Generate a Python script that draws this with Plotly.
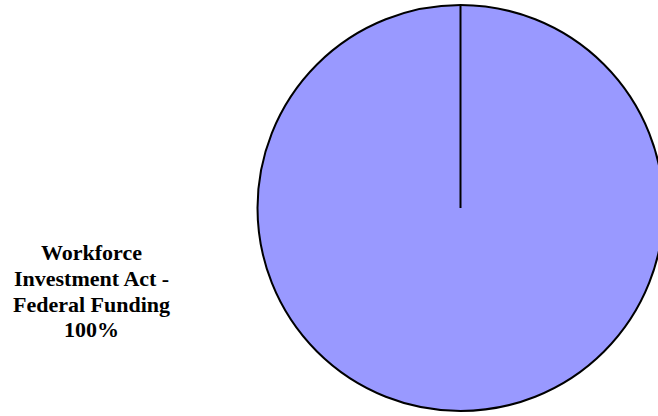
import plotly.graph_objects as go

labels = ["Workforce Investment Act - Federal Funding"]
values = [100]
label_lines = ["Workforce", "Investment Act -", "Federal Funding", "100%"]

# figure slightly wider than the window so the pie can run past the right edge, as in the reference
W, H = 666, 416
cx_px, cy_px, r_px = 460.5, 208.0, 203.0
dom_x = [(cx_px - r_px) / W, (cx_px + r_px) / W]
dom_y = [(H - (cy_px + r_px)) / H, (H - (cy_px - r_px)) / H]

fig = go.Figure(go.Pie(
    labels=labels, values=values, sort=False, direction="clockwise",
    rotation=0, textinfo="none", hoverinfo="label+percent",
    marker=dict(colors=["#9999FF"], line=dict(color="black", width=2)),
    domain=dict(x=dom_x, y=dom_y), showlegend=False,
))

cx = (dom_x[0] + dom_x[1]) / 2
cy = (dom_y[0] + dom_y[1]) / 2
fig.add_shape(type="line", xref="paper", yref="paper",
              x0=cx, x1=cx, y0=cy, y1=dom_y[1],
              line=dict(color="black", width=2))

y_start = 253
for i, t in enumerate(label_lines):
    fig.add_annotation(text="<b>%s</b>" % t, xref="paper", yref="paper",
                       x=91 / W, y=(H - (y_start + i * 25.6)) / H,
                       xanchor="center", yanchor="middle", showarrow=False,
                       font=dict(family="Liberation Serif", size=22, color="black"))

fig.update_layout(width=W, height=H, margin=dict(l=0, r=0, t=0, b=0),
                  paper_bgcolor="white", plot_bgcolor="white")
fig.write_html("out.html", config={"displayModeBar": False},
               post_script="document.body.style.margin='0';document.body.style.overflow='hidden';")
